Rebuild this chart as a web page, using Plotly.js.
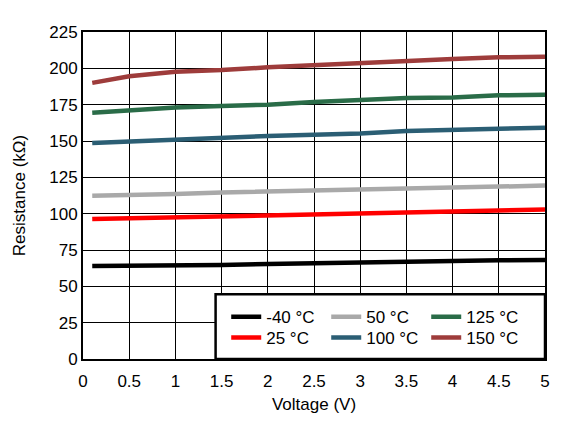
<!DOCTYPE html>
<html><head><meta charset="utf-8">
<script src="https://cdn.plot.ly/plotly-3.0.1.min.js"></script>
<style>html,body{margin:0;padding:0;background:#fff}#chart{width:570px;height:425px}</style>
</head><body><div id="chart"></div>
<script>
var voltage = [0.1, 0.5, 1.0, 1.5, 2.0, 2.5, 3.0, 3.5, 4.0, 4.5, 5.0];
var rMinus40 = [64.0, 64.0, 64.2, 64.7, 65.4, 66.0, 66.7, 66.7, 67.2, 67.9, 68.1];
var r25 = [96.3, 96.8, 97.5, 98.2, 98.9, 99.5, 100.2, 100.9, 101.6, 102.3, 102.8];
var r50 = [112.4, 112.8, 113.5, 114.6, 115.3, 116.3, 117.0, 117.6, 118.3, 119.0, 119.3];
var r100 = [148.6, 149.7, 151.1, 152.5, 153.4, 154.3, 155.2, 156.9, 157.3, 158.4, 159.1];
var r125 = [169.5, 171.3, 173.1, 174.0, 175.0, 176.8, 178.2, 179.6, 180.0, 181.4, 181.8];
var r150 = [190.0, 194.5, 197.7, 198.8, 200.7, 202.3, 203.9, 205.3, 206.4, 207.6, 208.0];
var seriesNames = ['-40 °C', '25 °C', '50 °C', '100 °C', '125 °C', '150 °C'];
var seriesColors = ['#000000', '#FF0000', '#A9A9A9', '#2B5E74', '#2A6C48', '#9E3C3B'];
var seriesValues = [rMinus40, r25, r50, r100, r125, r150];
var legendRows = ['legend', 'legend2', 'legend', 'legend2', 'legend', 'legend2'];
var xTicks = [0, 0.5, 1, 1.5, 2, 2.5, 3, 3.5, 4, 4.5, 5];
var yTicks = [0, 25, 50, 75, 100, 125, 150, 175, 200, 225];

var traces = seriesValues.map(function (vals, i) {
  return {
    x: voltage, y: vals, type: 'scatter', mode: 'lines',
    name: seriesNames[i], legend: legendRows[i],
    line: {color: seriesColors[i], width: 4.5}
  };
});

var font = {family: '"Liberation Sans", Arial, sans-serif', size: 17, color: '#000'};
function legendRow(y) {
  return {
    orientation: 'h', x: 0.31, xanchor: 'left', y: y, yanchor: 'middle',
    bgcolor: 'rgba(0,0,0,0)', borderwidth: 0,
    font: font, entrywidth: 55, traceorder: 'normal'
  };
}
var layout = {
  width: 570, height: 425,
  margin: {l: 83, r: 25, t: 32, b: 66},
  paper_bgcolor: '#fff', plot_bgcolor: '#fff',
  font: font,
  showlegend: true,
  xaxis: {
    range: [0, 5], tickvals: xTicks, ticktext: xTicks.map(String),
    showgrid: true, gridcolor: '#000', gridwidth: 1,
    showline: true, linecolor: '#000', linewidth: 2, mirror: true,
    zeroline: false, ticks: '', tickfont: font, ticklabelstandoff: 6,
    title: {text: 'Voltage (V)', font: font, standoff: 8}
  },
  yaxis: {
    range: [0, 225], tickvals: yTicks, ticktext: yTicks.map(String),
    showgrid: true, gridcolor: '#000', gridwidth: 1,
    showline: true, linecolor: '#000', linewidth: 2, mirror: true,
    zeroline: false, ticks: '', tickfont: font,
    title: {text: 'Resistance (kΩ)', font: font, standoff: 19}
  },
  legend: legendRow(0.128),
  legend2: legendRow(0.064),
  shapes: [{
    type: 'rect', xref: 'paper', yref: 'paper', layer: 'above',
    x0: 0.287, x1: 1, y0: 0, y1: 0.198,
    line: {color: '#000', width: 2.5}, fillcolor: '#fff'
  }]
};
Plotly.newPlot('chart', traces, layout, {displayModeBar: false, staticPlot: true});
</script></body></html>
